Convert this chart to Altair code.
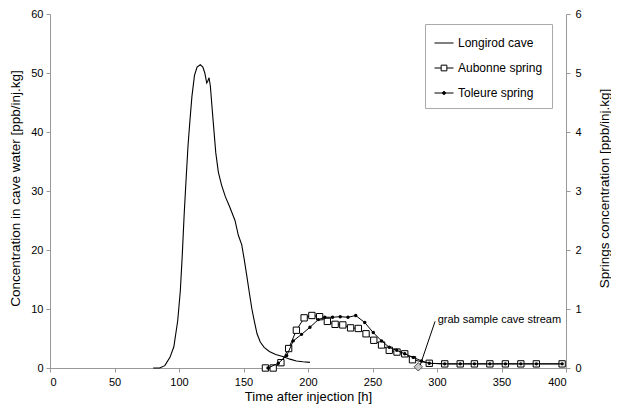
import altair as alt
import pandas as pd

# ---------------- data ----------------
cave_t = [80, 85, 89, 93, 96, 99, 101, 102.5, 104, 105.5, 107, 108.5, 110, 112, 114,
          116.5, 118.5, 120, 121.5, 122.3, 123.3, 124.3, 125.5, 126.8, 128.5, 130.5,
          133, 136, 139.5, 143.4, 146, 148.6, 150.5, 152.5, 154.5, 156.5, 158.5,
          160.5, 163, 166, 170, 175, 181, 186, 191, 196, 201.5]
cave_c = [0, 0, 0.4, 1.8, 3.6, 8, 13, 19, 26, 32, 37.7, 42, 46, 49.6, 51,
          51.4, 51, 50, 48.3, 48.6, 49.2, 47.8, 44.5, 41, 36.5, 33.2,
          31, 29, 27.2, 25, 22.5, 20.9, 18.5, 15.7, 12.8, 10, 7.8,
          5.8, 4.4, 3.5, 2.8, 2.3, 1.9, 1.5, 1.2, 1.05, 0.95]

aub_t = [167, 173, 179, 185, 191, 197, 203, 209, 215, 221, 227, 233, 239, 245, 251,
         257, 263, 269, 275, 281, 294, 306, 318, 329, 341, 353, 365, 377, 397]
aub_v = [0, 0, 0.09, 0.33, 0.64, 0.85, 0.89, 0.87, 0.79, 0.74, 0.73, 0.68, 0.67, 0.58, 0.47,
         0.39, 0.30, 0.27, 0.24, 0.14, 0.08, 0.07, 0.07, 0.07, 0.07, 0.07, 0.07, 0.07, 0.07]

tol_t = [169, 177, 183.5, 188.6, 195, 201.5, 208, 213, 219, 225, 231, 237, 244, 250.6,
         257, 263, 268.8, 275, 281.6, 288, 294, 306, 318, 329, 341, 353, 365, 377, 397]
tol_v = [0, 0.08, 0.21, 0.46, 0.57, 0.69, 0.82, 0.86, 0.86, 0.87, 0.86, 0.89, 0.77, 0.60,
         0.46, 0.35, 0.30, 0.24, 0.18, 0.12, 0.08, 0.07, 0.07, 0.07, 0.07, 0.07, 0.07, 0.07, 0.07]

grab_t = [285.5]
grab_v = [0.02]

ann_t = [287, 298.5]
ann_v = [0.05, 0.79]
ann_label_t = [300.5]
ann_label_v = [0.82]
ann_label = ["grab sample cave stream"]

series_names = ["Longirod cave", "Aubonne spring", "Toleure spring"]
legend_paths = [
    "M-1,0L1,0",
    "M-1,0L-0.3,0M0.3,0L1,0M-0.3,-0.3L0.3,-0.3L0.3,0.3L-0.3,0.3Z",
    "M-1,0L1,0M-0.16,0A0.16,0.16,0,1,0,0.16,0A0.16,0.16,0,1,0,-0.16,0Z",
]
legend_fills = ["transparent", "white", "black"]
legend_strokes = ["black", "black", "black"]

x_ticks = list(range(0, 401, 50))
left_ticks = list(range(0, 61, 10))
right_ticks = [0, 1, 2, 3, 4, 5, 6]

# ---------------- styling ----------------
FONT = "Liberation Sans"
AXC = "#999999"
W, H = 516, 354

cave_df = pd.DataFrame({"t": cave_t, "c": cave_c})
aub_df = pd.DataFrame({"t": aub_t, "v": aub_v})
tol_df = pd.DataFrame({"t": tol_t, "v": tol_v})
grab_df = pd.DataFrame({"t": grab_t, "v": grab_v})
ann_df = pd.DataFrame({"t": ann_t, "v": ann_v})
lab_df = pd.DataFrame({"t": ann_label_t, "v": ann_label_v, "label": ann_label})
leg_df = pd.DataFrame({"t": [0] * 3, "v": [0] * 3, "series": series_names})

x_enc = alt.X("t:Q", scale=alt.Scale(domain=[0, 400], nice=False, zero=False),
              axis=alt.Axis(values=x_ticks, title="Time after injection [h]",
                            grid=False, tickSize=4, labelPadding=4,
                            titleY=28, titleBaseline="middle", titleFontSize=13))

left_axis = alt.Axis(orient="left", values=left_ticks, grid=False, tickSize=4,
                     labelPadding=3, title="Concentration in cave water [ppb/inj.kg]",
                     titleAngle=270, titleX=-35, titleY=174, titleAlign="center",
                     titleBaseline="middle")
right_axis = alt.Axis(orient="right", values=right_ticks, grid=False, tickSize=4,
                      labelPadding=5, title="Springs concentration [ppb/inj.kg]",
                      titleAngle=270, titleX=38, titleY=174, titleAlign="center",
                      titleBaseline="middle")

y_left = alt.Y("c:Q", scale=alt.Scale(domain=[0, 60], nice=False), axis=left_axis)
y_right = alt.Y("v:Q", scale=alt.Scale(domain=[0, 6], nice=False), axis=right_axis)

cave = alt.Chart(cave_df).mark_line(color="black", strokeWidth=1.1).encode(x=x_enc, y=y_left)

aub_line = alt.Chart(aub_df).mark_line(color="black", strokeWidth=1).encode(x=x_enc, y=y_right)
aub_pts = alt.Chart(aub_df).mark_point(shape="square", filled=True, fill="white",
                                       stroke="black", strokeWidth=1, size=40,
                                       opacity=1).encode(x=x_enc, y=y_right)
tol_line = alt.Chart(tol_df).mark_line(color="black", strokeWidth=1).encode(x=x_enc, y=y_right)
tol_pts = alt.Chart(tol_df).mark_circle(color="black", size=12, opacity=1).encode(x=x_enc, y=y_right)
grab = alt.Chart(grab_df).mark_point(shape="diamond", filled=True, fill="#c8c8c8",
                                     stroke="#555555", strokeWidth=1, size=70,
                                     opacity=1).encode(x=x_enc, y=y_right)
ann_line = alt.Chart(ann_df).mark_line(color="black", strokeWidth=1).encode(x=x_enc, y=y_right)
ann_text = alt.Chart(lab_df).mark_text(align="left", baseline="middle", font=FONT,
                                       fontSize=11, color="black").encode(
    x=x_enc, y=y_right, text="label:N")

leg = alt.Legend(title=None, orient="none", legendX=375, legendY=10,
                 symbolSize=361, symbolStrokeWidth=1,
                 labelFont=FONT, labelFontSize=12, labelColor="black",
                 strokeColor="#aaaaaa", fillColor="white", padding=9,
                 rowPadding=9, labelOffset=4)
legend_layer = alt.Chart(leg_df).mark_point(strokeWidth=1, opacity=1).encode(
    x=x_enc, y=y_right,
    shape=alt.Shape("series:N", scale=alt.Scale(domain=series_names, range=legend_paths), legend=leg),
    fill=alt.Fill("series:N", scale=alt.Scale(domain=series_names, range=legend_fills), legend=leg),
    stroke=alt.Stroke("series:N", scale=alt.Scale(domain=series_names, range=legend_strokes), legend=leg),
).transform_filter("false")

right = alt.layer(aub_line, aub_pts, tol_line, tol_pts, grab, ann_line, ann_text, legend_layer)

chart = alt.layer(cave, right).resolve_scale(y="independent").properties(
    width=W, height=H,
    autosize=alt.AutoSizeParams(type="none"),
    padding={"left": 42, "top": 6, "right": 45, "bottom": 36},
).configure_view(stroke=None).configure_axis(
    domainColor=AXC, tickColor=AXC, labelFont=FONT, labelFontSize=11,
    labelColor="black", titleFont=FONT, titleFontSize=13.5, titleColor="black",
    titleFontWeight="normal",
)

chart.save("out.html", embed_options={"renderer": "svg", "actions": False})
